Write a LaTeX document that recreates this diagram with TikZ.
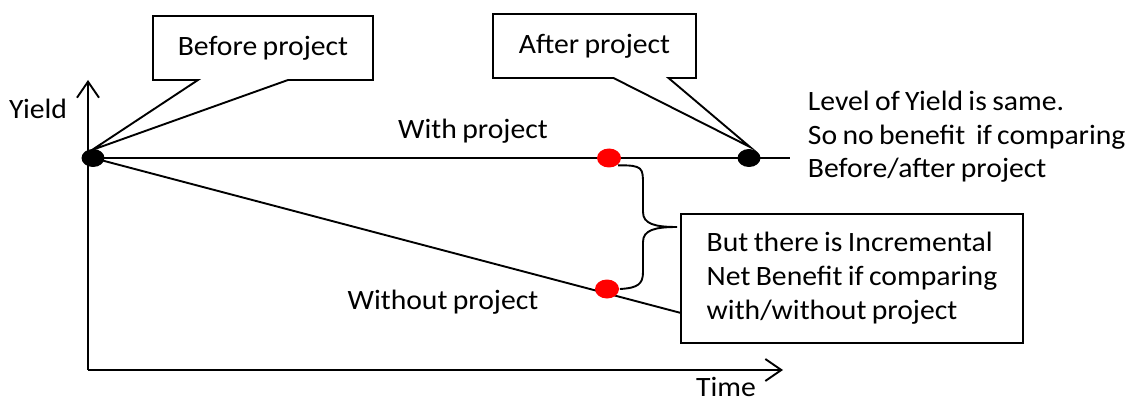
\documentclass[tikz,border=0pt]{standalone}
\usepackage{fontspec}
\setmainfont{Carlito}[FakeStretch=1.06,WordSpace=0.8]
\usetikzlibrary{arrows.meta,shapes.geometric,shapes.callouts,calc}
\begin{document}
\begin{tikzpicture}[x=1pt,y=-1pt,
  line width=1.9pt,
  font=\fontsize{28}{34}\selectfont,
  axis/.style={line width=1.9pt,-{Straight Barb[length=16pt,width=22pt,line width=1.9pt]}},
  dot/.style={ellipse, minimum width=23pt, minimum height=18pt, inner sep=0pt, fill=black, draw=none},
  reddot/.style={ellipse, minimum width=24pt, minimum height=19pt, inner sep=0pt, fill=red, draw=none},
  callbox/.style={rectangle callout, draw, fill=white, line width=1.9pt,
    minimum height=64pt, callout pointer width=55pt, inner sep=0pt},
  txt/.style={inner sep=0pt, anchor=base},
  infobox/.style={draw, line width=1.9pt, minimum width=342pt, minimum height=129pt,
    inner sep=0pt, align=left}
]
\useasboundingbox (0,0) rectangle (1130,401);

% axes
\coordinate (O) at (88,370);
\coordinate (ytip) at (88,80);
\coordinate (xtip) at (783,370);
\draw[axis] (O) -- (ytip);
\draw[axis] (O) -- (xtip);
\node[txt] (ylab) at (38,119) {Yield};
\node[txt] (tlab) at (726,396) {Time};

% yield paths
\coordinate (p0) at (93,158);
\coordinate (wEnd) at (790,158);
\coordinate (woEnd) at (681,313);
\draw (p0) -- (wEnd);
\draw (p0) -- (woEnd);
\node[txt] (wlab) at (473,139) {With project};
\node[txt] (wolab) at (443,309) {Without project};

% points on the paths
\node[dot] (start) at (p0) {};
\node[dot] (after) at (749,158) {};
\node[reddot] (rw) at (609,158) {};
\node[reddot] (rwo) at (607,289) {};

% callouts
\coordinate (bt) at (92,150);
\coordinate (at) at (750,147);
\node[callbox, minimum width=220pt, callout pointer width=90pt, callout absolute pointer=(bt)] (before) at (263,48) {Before project};
\node[callbox, minimum width=203pt, callout absolute pointer=(at)] (afterbox) at (594.5,46) {After project};

% comparison note
\node[anchor=west, align=left, inner sep=0pt, font=\fontsize{28}{33.5}\selectfont] (note) at (807,137)
  {Level of Yield is same.\\So no benefit\ \ if comparing\\Before/after project};

% incremental benefit box and brace
\node[infobox] (inc) at (852,278.5)
  {But there is Incremental\\Net Benefit if comparing\\with/without project};
\coordinate (btip) at (677,227);
\draw (rw.south east) .. controls (643,165) and (643,168) .. (643,185)
  -- (643,212) .. controls (643,224) and (655,227) .. (btip)
  .. controls (655,227) and (643,230) .. (643,242)
  -- (643,272) .. controls (643,284) and (638,288) .. (rwo.east);
\end{tikzpicture}
\end{document}
